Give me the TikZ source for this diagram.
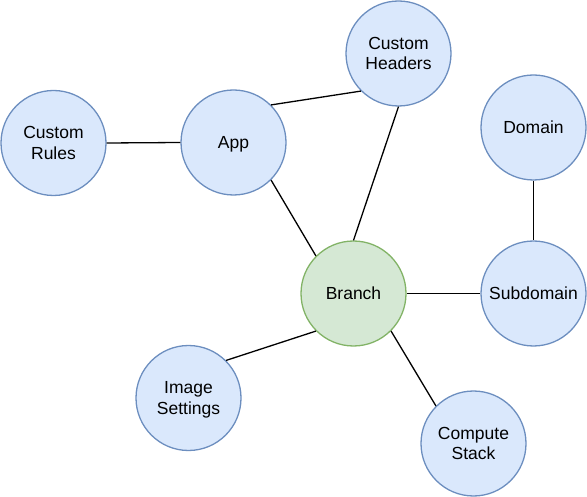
\documentclass[tikz,border=0pt]{standalone}
\usepackage{fontspec}
\setmainfont{Liberation Sans}
\definecolor{bfill}{HTML}{DAE8FC}
\definecolor{bdraw}{HTML}{6C8EBF}
\definecolor{gfill}{HTML}{D5E8D4}
\definecolor{gdraw}{HTML}{82B366}
\begin{document}
\begin{tikzpicture}[x=1pt,y=-1pt,
  bubble/.style={circle,draw=bdraw,fill=bfill,line width=1.3pt,minimum size=105pt,inner sep=0pt,
    align=center,text depth=0pt,font=\fontsize{17.5}{20.5}\selectfont},
  gbubble/.style={bubble,draw=gdraw,fill=gfill},
  link/.style={line width=1.3pt,black}]
\useasboundingbox (0,0) rectangle (587,497);
\node[bubble] (rules) at (53.5,143) {Custom\\Rules};
\node[bubble] (app) at (233.5,142.5) {App};
\node[bubble] (headers) at (398.5,53.5) {Custom\\Headers};
\node[bubble] (domain) at (533.5,127.5) {Domain};
\node[bubble] (sub) at (533.5,293.5) {Subdomain};
\node[gbubble] (branch) at (353.5,293.5) {Branch};
\node[bubble] (image) at (188.5,398) {Image\\Settings};
\node[bubble] (compute) at (473.5,443.5) {Compute\\Stack};
\draw[link] (rules.east) -- (app.west);
\draw[link] (app.north east) -- (headers.south west);
\draw[link] (headers.south) -- (branch.north);
\draw[link] (app.south east) -- (branch.north west);
\draw[link] (branch.east) -- (sub.west);
\draw[link] (domain.south) -- (sub.north);
\draw[link] (branch.south west) -- (image.north east);
\draw[link] (branch.south east) -- (compute.north west);
\end{tikzpicture}
\end{document}
